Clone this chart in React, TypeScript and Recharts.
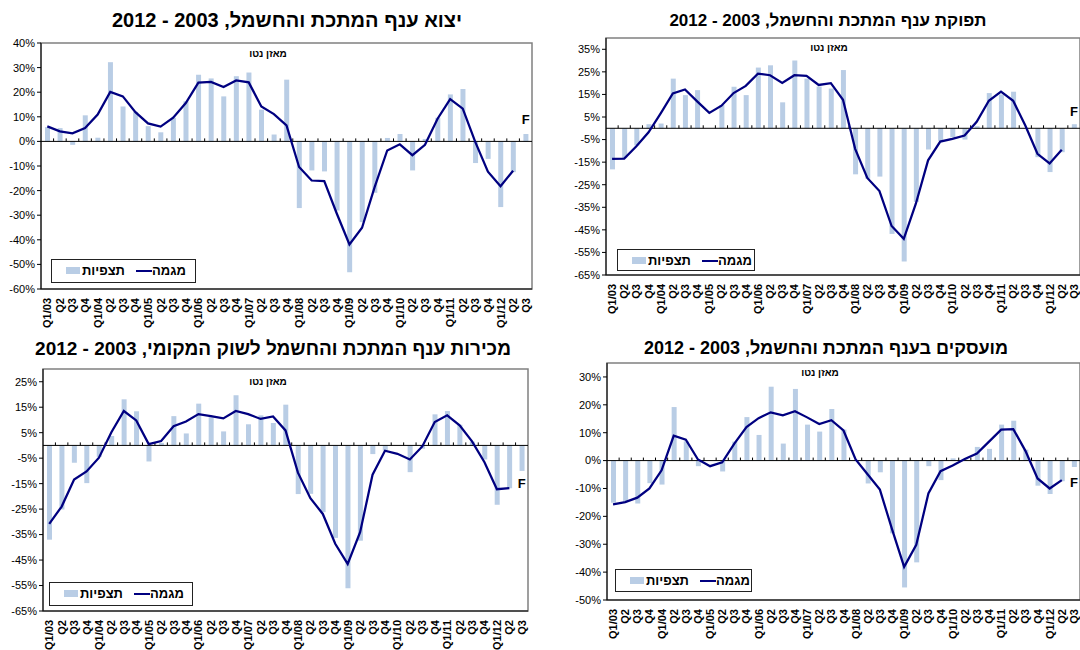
import { ComposedChart, Bar, Line, XAxis, YAxis, ReferenceLine, ReferenceArea, ReferenceDot } from 'recharts';

const quarterLabels = [
  'Q1/03', 'Q2', 'Q3', 'Q4',
  'Q1/04', 'Q2', 'Q3', 'Q4',
  'Q1/05', 'Q2', 'Q3', 'Q4',
  'Q1/06', 'Q2', 'Q3', 'Q4',
  'Q1/07', 'Q2', 'Q3', 'Q4',
  'Q1/08', 'Q2', 'Q3', 'Q4',
  'Q1/09', 'Q2', 'Q3', 'Q4',
  'Q1/10', 'Q2', 'Q3', 'Q4',
  'Q1/11', 'Q2', 'Q3', 'Q4',
  'Q1/12', 'Q2', 'Q3',
];

// יצוא
const exportExpect = [5.8, 5.4, -1.4, 10.6, 1.5, 32.2, 14.2, 12, 6.2, 3.7, 9.6, 16.3, 27.1, 25.6, 18.3, 26.5, 28.0, 12.9, 2.8, 25.1, -27.1, -11.8, -12.2, -28.1, -53.2, -32.8, -20.9, 1.4, 3.0, -11.8, 1.0, 9.6, 19.1, 21.3, -8.8, -7.1, -26.7, -12.5, 3.0];
const exportTrend = [6.1, 4.1, 3.3, 5.4, 10.9, 20.1, 18.3, 11.9, 7.3, 6.0, 9.6, 15.6, 23.9, 24.2, 22.1, 24.8, 24.0, 14.2, 11.1, 6.5, -10.4, -15.9, -16.1, -29.4, -41.9, -35.1, -18.6, -3.7, -1.2, -5.6, -1.4, 9.2, 17.2, 13.3, -0.3, -12.3, -18.2, -11.9, null];

// תפוקה
const outputExpect = [-18.2, -13.2, -7.6, 1.8, 2.1, 22.0, 14.7, 16.9, 0, 10.3, 18.4, 14.7, 26.9, 27.9, 11.5, 30.0, 22.0, 18.5, 17.6, 25.8, -20.4, -22.3, -21.4, -46.8, -59.0, -32.6, -9.4, -5.6, -4.0, -5.0, 0.9, 15.6, 15.0, 16.2, 0, -12.8, -19.4, -10.6, 1.8];
const outputTrend = [-13.5, -13.4, -8.0, -1.8, 6.6, 15.4, 17.2, 11.9, 6.8, 10.0, 15.6, 18.8, 24.2, 23.5, 20.1, 23.5, 23.2, 19.2, 20.0, 12.6, -9.1, -22.0, -27.8, -43.3, -49.0, -33.3, -14.2, -5.9, -4.7, -3.2, 2.9, 12.2, 16.2, 12.2, 1.2, -11.3, -15.6, -9.5, null];

// מכירות לשוק המקומי
const domesticExpect = [-37.0, -25.2, -6.8, -14.8, -4.5, 3.7, 18.1, 13.4, -6.3, 1.0, 11.5, 4.7, 16.4, 11.1, 5.5, 19.7, 8.3, 11.8, 8.8, 16.0, -19.1, -19.0, -26.2, -36.3, -56.1, -37.4, -3.4, -2.0, 0, -10.5, -1.3, 12.2, 13.5, 8.1, 1.5, -5.5, -23.3, -16.8, -10.0];
const domesticTrend = [-30.8, -24.0, -13.4, -10.2, -4.8, 5.2, 13.5, 9.8, 0.5, 1.7, 7.5, 9.4, 12.3, 11.5, 10.6, 13.5, 12.3, 10.4, 11.4, 5.9, -10.7, -20.7, -26.9, -38.6, -46.5, -34.1, -11.5, -2.1, -3.3, -5.5, -0.4, 9.2, 11.8, 7.9, 1.6, -6.6, -17.2, -16.8, null];

// מועסקים
const employExpect = [-15.1, -14.5, -15.4, -8.1, -8.6, 19.2, 6.9, -2.0, 0, -3.9, 6.8, 15.6, 9.2, 26.5, 6.1, 25.7, 12.9, 10.4, 18.5, 11.1, 0, -8.2, -4.2, -26.1, -45.5, -36.5, -2.0, -7.0, 0.8, 0.5, 4.9, 4.2, 12.9, 14.3, 3.9, -9.0, -12.0, -7.4, -2.3];
const employTrend = [-15.7, -14.9, -13.3, -10.0, -3.5, 8.9, 7.5, 0.4, -2.0, -0.6, 6.1, 12.0, 15.2, 17.3, 16.2, 17.7, 15.5, 13.1, 14.5, 10.8, 0.4, -5.0, -10.4, -24.6, -38.1, -30.2, -11.8, -3.8, -1.8, 0.6, 2.5, 6.8, 11.1, 11.3, 3.5, -6.4, -10.0, -7.0, null];

const BAR_COLOR = '#b9cde5';
const LINE_COLOR = '#000080';
const FONT = 'Arial, "Liberation Sans", sans-serif';

function makeTicks(from: number, to: number) {
  const out: number[] = [];
  for (let v = from; v <= to; v += 10) out.push(v);
  return out;
}

const panels = [
  {
    title: 'יצוא ענף המתכת והחשמל, 2003 - 2012',
    titleX: 287, titleY: 20, titleSize: 20,
    expect: exportExpect, trend: exportTrend,
    domain: [-60, 40], ticks: makeTicks(-60, 40), fValue: 9,
    left: 0, top: 30, width: 540, height: 300,
    yWidth: 41, mTop: 13, mRight: 8, xHeight: 41,
    legend: { left: 51, top: 259, width: 145, height: 24 },
    net: { x: 268, y: 54 },
  },
  {
    title: 'תפוקת ענף המתכת והחשמל, 2003 - 2012',
    titleX: 828, titleY: 21, titleSize: 17,
    expect: outputExpect, trend: outputTrend,
    domain: [-65, 40], ticks: makeTicks(-65, 35), fValue: 7.4,
    left: 540, top: 30, width: 540, height: 300,
    yWidth: 66, mTop: 8, mRight: 0, xHeight: 55,
    legend: { left: 617, top: 249, width: 138, height: 22 },
    net: { x: 829, y: 48 },
  },
  {
    title: 'מכירות ענף המתכת והחשמל לשוק המקומי, 2003 - 2012',
    titleX: 273, titleY: 349, titleSize: 19,
    expect: domesticExpect, trend: domesticTrend,
    domain: [-65, 30], ticks: makeTicks(-65, 25), fValue: -15,
    left: 0, top: 340, width: 540, height: 310,
    yWidth: 43, mTop: 29, mRight: 12, xHeight: 39,
    legend: { left: 49, top: 582, width: 144, height: 24 },
    net: { x: 268, y: 382 },
  },
  {
    title: 'מועסקים בענף המתכת והחשמל, 2003 - 2012',
    titleX: 826, titleY: 348, titleSize: 18,
    expect: employExpect, trend: employTrend,
    domain: [-50, 35], ticks: makeTicks(-50, 30), fValue: -7.9,
    left: 540, top: 340, width: 540, height: 310,
    yWidth: 67, mTop: 23, mRight: 0, xHeight: 50,
    legend: { left: 615, top: 569, width: 137, height: 23 },
    net: { x: 820, y: 373 },
  },
];

const QuarterTick = (props: any) => {
  const { x, y, payload } = props;
  return (
    <text
      transform={`translate(${x + 4},${y + 9}) rotate(-90)`}
      textAnchor="end"
      fontSize={11}
      fontWeight="bold"
      fontFamily={FONT}
      fill="#000"
    >
      {quarterLabels[payload.value]}
    </text>
  );
};

// zero line with small upward ticks between categories
const ZeroLine = (props: any) => {
  const { x1, x2, y1 } = props;
  const n = quarterLabels.length;
  const step = (x2 - x1) / n;
  const marks = [];
  for (let k = 1; k < n; k++) {
    const x = x1 + k * step;
    marks.push(<line key={k} x1={x} x2={x} y1={y1} y2={y1 - 3} stroke="#000" strokeWidth={1} />);
  }
  return (
    <g>
      <line x1={x1} x2={x2} y1={y1} y2={y1} stroke="#000" strokeWidth={1} />
      {marks}
    </g>
  );
};

const LegendBox = ({ box }: { box: { left: number; top: number; width: number; height: number } }) => (
  <div
    style={{
      position: 'absolute', left: box.left, top: box.top, width: box.width, height: box.height,
      boxSizing: 'border-box', border: '1.5px solid #222', background: '#fff',
      fontFamily: FONT, fontWeight: 'bold', fontSize: 13, lineHeight: '15px',
    }}
  >
    <span style={{ position: 'absolute', left: 14, top: 7, width: 14, height: 7, background: BAR_COLOR }} />
    <span style={{ position: 'absolute', left: 30, top: 3, direction: 'rtl' }}>תצפיות</span>
    <span style={{ position: 'absolute', left: 84, top: 10, width: 16, height: 2, background: LINE_COLOR }} />
    <span style={{ position: 'absolute', left: 100, top: 3, direction: 'rtl' }}>מגמה</span>
  </div>
);

function Panel({ p }: { p: (typeof panels)[number] }) {
  const data = quarterLabels.map((_, i) => ({ idx: i, expect: p.expect[i], trend: p.trend[i] }));
  const last = quarterLabels.length - 1;
  return (
    <div style={{ position: 'absolute', left: p.left, top: p.top }}>
      <ComposedChart
        width={p.width}
        height={p.height}
        data={data}
        margin={{ top: p.mTop, right: p.mRight, bottom: 0, left: 0 }}
        barCategoryGap={0}
      >
        <XAxis
          dataKey="idx"
          type="category"
          interval={0}
          height={p.xHeight}
          tick={<QuarterTick />}
          tickLine={false}
          tickSize={0}
          tickMargin={0}
          axisLine={{ stroke: '#000', strokeWidth: 1 }}
        />
        <YAxis
          type="number"
          domain={p.domain}
          ticks={p.ticks}
          width={p.yWidth}
          interval={0}
          tickFormatter={(v: number) => `${v}%`}
          tick={{ fontSize: 11, fill: '#000', fontFamily: FONT }}
          tickSize={4}
          tickMargin={2}
          tickLine={{ stroke: '#000' }}
          axisLine={{ stroke: '#000' }}
        />
        <ReferenceArea y1={p.domain[0]} y2={p.domain[1]} fill="none" stroke="#808080" strokeWidth={1.5} />
        <Bar dataKey="expect" name="תצפיות" fill={BAR_COLOR} barSize={5} isAnimationActive={false} />
        <ReferenceLine y={0} shape={<ZeroLine />} />
        <Line
          dataKey="trend"
          name="מגמה"
          type="linear"
          stroke={LINE_COLOR}
          strokeWidth={2.25}
          dot={false}
          activeDot={false}
          connectNulls={false}
          isAnimationActive={false}
        />
        <ReferenceDot
          x={last}
          y={p.fValue}
          r={0}
          fill="none"
          stroke="none"
          label={{ value: 'F', position: 'center', fontSize: 13, fontWeight: 'bold', fill: '#000', fontFamily: FONT }}
        />
      </ComposedChart>
    </div>
  );
}

export default function App() {
  return (
    <div style={{ position: 'absolute', left: 0, top: 0, width: 1080, height: 650, background: '#fff', overflow: 'hidden' }}>
      {panels.map((p, i) => (
        <Panel key={i} p={p} />
      ))}
      {panels.map((p, i) => (
        <LegendBox key={`l${i}`} box={p.legend} />
      ))}
      {panels.map((p, i) => (
        <div
          key={`t${i}`}
          dir="rtl"
          style={{
            position: 'absolute', left: p.titleX - 270, top: p.titleY - 11, width: 540,
            textAlign: 'center', fontFamily: FONT, fontWeight: 'bold', fontSize: p.titleSize, lineHeight: '22px', whiteSpace: 'nowrap',
          }}
        >
          {p.title}
        </div>
      ))}
      {panels.map((p, i) => (
        <div
          key={`n${i}`}
          dir="rtl"
          style={{
            position: 'absolute', left: p.net.x - 40, top: p.net.y - 7, width: 80,
            textAlign: 'center', fontFamily: FONT, fontWeight: 'bold', fontSize: 10, lineHeight: '14px',
          }}
        >
          מאזן נטו
        </div>
      ))}
    </div>
  );
}
